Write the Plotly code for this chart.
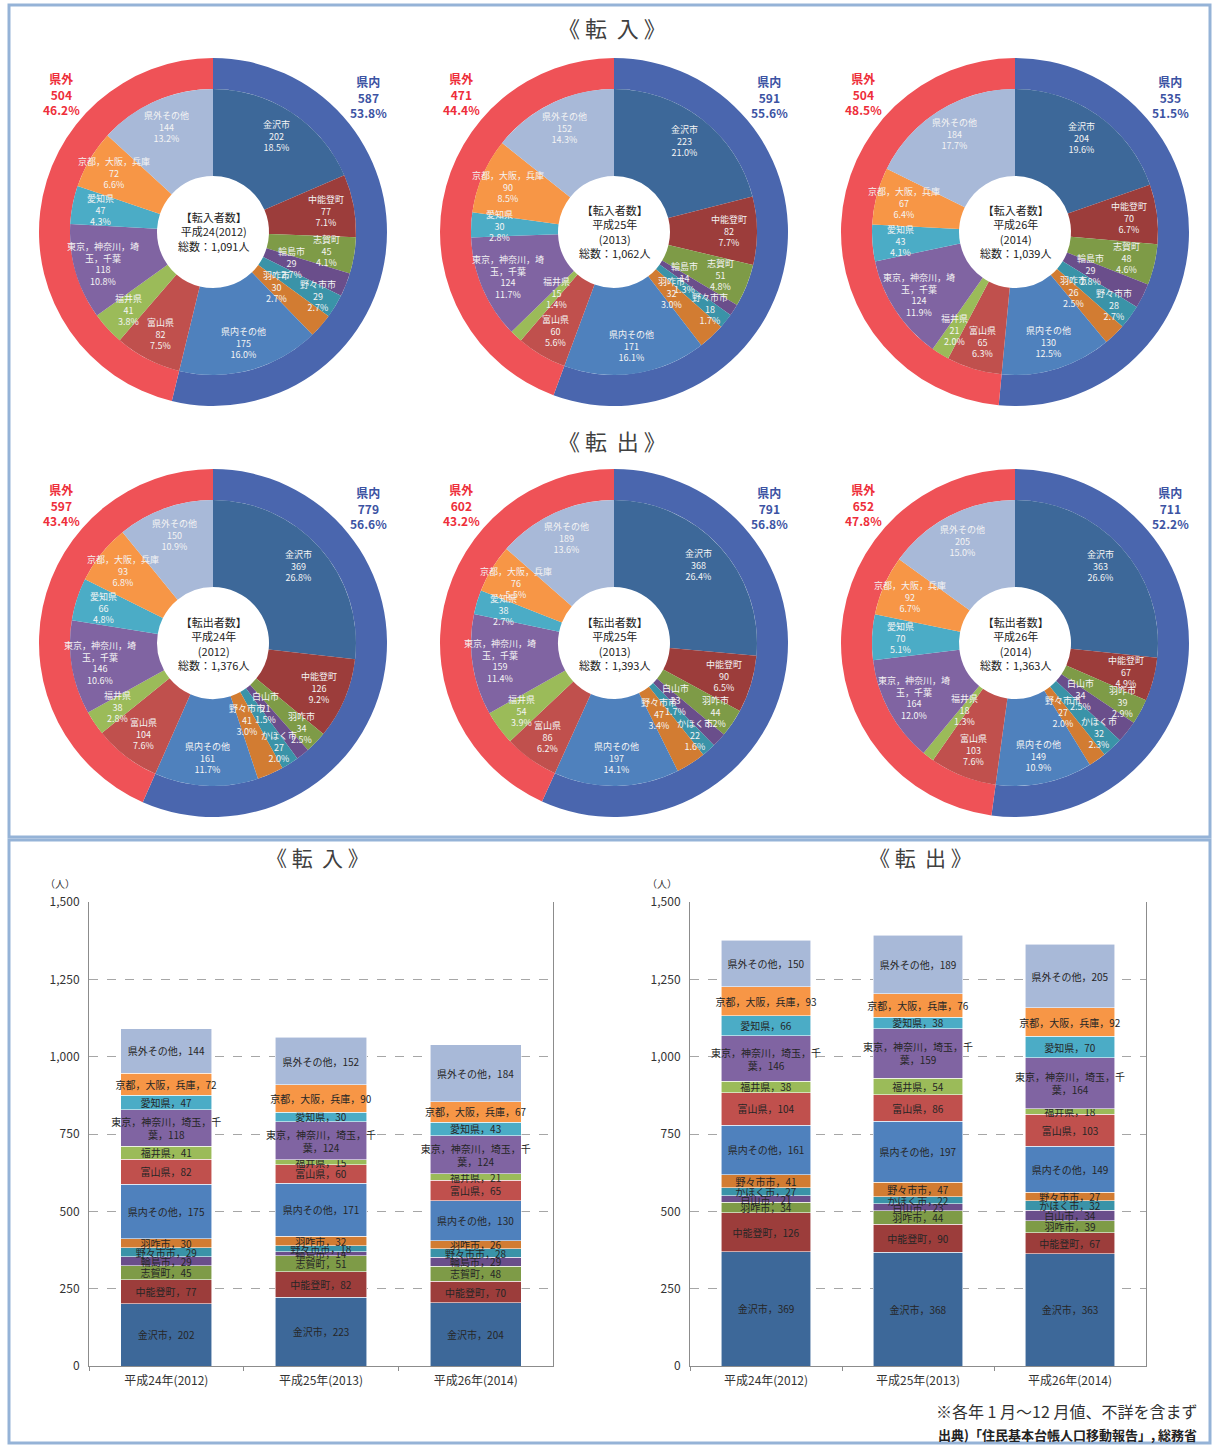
import math
import plotly.graph_objects as go

W, H = 1213, 1446
FONT = "Noto Sans CJK JP"

# ---------------------------------------------------------------- data
years = ["平成24年(2012)", "平成25年(2013)", "平成26年(2014)"]

in_names = ["金沢市", "中能登町", "志賀町", "輪島市", "野々市市", "羽咋市", "県内その他",
            "富山県", "福井県", "東京，神奈川，埼玉，千葉", "愛知県", "京都，大阪，兵庫", "県外その他"]
out_names = ["金沢市", "中能登町", "羽咋市", "白山市", "かほく市", "野々市市", "県内その他",
             "富山県", "福井県", "東京，神奈川，埼玉，千葉", "愛知県", "京都，大阪，兵庫", "県外その他"]

in_2012 = [202, 77, 45, 29, 29, 30, 175, 82, 41, 118, 47, 72, 144]
in_2013 = [223, 82, 51, 14, 18, 32, 171, 60, 15, 124, 30, 90, 152]
in_2014 = [204, 70, 48, 29, 28, 26, 130, 65, 21, 124, 43, 67, 184]

out_2012 = [369, 126, 34, 21, 27, 41, 161, 104, 38, 146, 66, 93, 150]
out_2013 = [368, 90, 44, 23, 22, 47, 197, 86, 54, 159, 38, 76, 189]
out_2014 = [363, 67, 39, 34, 32, 27, 149, 103, 18, 164, 70, 92, 205]

in_center_years = ["平成24(2012)", "平成25年<br>(2013)", "平成26年<br>(2014)"]
out_center_years = ["平成24年<br>(2012)", "平成25年<br>(2013)", "平成26年<br>(2014)"]

N_WITHIN = 7  # the first seven groups lie inside the prefecture

# wrapped forms of the long group name
pie_wrap = {"東京，神奈川，埼玉，千葉": "東京，神奈川，埼<br>玉，千葉"}
bar_wrap = {"東京，神奈川，埼玉，千葉": "東京，神奈川，埼玉，千<br>葉"}

# ---------------------------------------------------------------- styles
slice_colors = ["#3D6899", "#9C3D3B", "#7E9B47", "#6A4E8B", "#3A93A8", "#D27C32", "#4F81BD",
                "#C0504D", "#9BBB59", "#8064A2", "#4BACC6", "#F79646", "#A8B9D8"]
ring_colors = ["#4A66AE", "#EF5257"]
IN_COLOR, OUT_COLOR = "#3C53A3", "#EE2E3A"
FRAME = "#95B3D7"

R_RING = 174     # outer ring radius (px)
R_PIE = 143      # inner pie radius (px)
R_HOLE = 56      # centre hole radius (px)
centers_x = [213, 614, 1015]
centers_y = [232, 643]

SP = "\u00a0"


def spaced_title(a, b):
    return f"《{SP}{a}{SP * 2}{b}{SP}》"


def px_to_paper(x, y):
    return x / W, 1 - y / H


def domain(cx, cy, r):
    return dict(x=[(cx - r) / W, (cx + r) / W], y=[1 - (cy + r) / H, 1 - (cy - r) / H])


fig = go.Figure()
annotations = []


def text_at(px, py, text, size, color="#404040", xanchor="center", yanchor="middle", **kw):
    x, y = px_to_paper(px, py)
    annotations.append(dict(x=x, y=y, xref="paper", yref="paper", showarrow=False,
                            text=text, xanchor=xanchor, yanchor=yanchor,
                            font=dict(size=size, color=color, family=FONT), **kw))


def add_donut(cx, cy, names, values, kind, year_label):
    total = sum(values)
    within = sum(values[:N_WITHIN])
    outside = total - within
    # outer ring: within / outside the prefecture
    fig.add_trace(go.Pie(
        values=[within, outside], labels=["県内", "県外"], sort=False,
        direction="clockwise", rotation=0, hole=R_PIE / R_RING,
        domain=domain(cx, cy, R_RING), textinfo="none", hoverinfo="skip",
        marker=dict(colors=ring_colors, line=dict(width=0)), showlegend=False))
    # inner pie: destination / origin groups
    fig.add_trace(go.Pie(
        values=values, labels=names, sort=False, direction="clockwise", rotation=0,
        hole=R_HOLE / R_PIE, domain=domain(cx, cy, R_PIE), textinfo="none",
        hoverinfo="skip", marker=dict(colors=slice_colors, line=dict(width=0)),
        showlegend=False))

    # slice labels, placed along each slice's mid-angle
    shares = [v / total * 100 for v in values]
    small = [s < 3.6 for s in shares]
    cum = 0
    for i, (n, v) in enumerate(zip(names, values)):
        mid = (cum + v / 2) / total * 2 * math.pi
        cum += v
        run = small[i] and ((i > 0 and small[i - 1]) or (i < len(values) - 1 and small[i + 1]))
        if run:
            r = 84 if i % 2 == 1 else 123
        elif shares[i] < 2.0:
            r = 84
        else:
            r = 115
        text_at(cx + r * math.sin(mid), cy - r * math.cos(mid),
                f"{pie_wrap.get(n, n)}<br>{v}<br>{shares[i]:.1f}%", 9, color="#F4F4F4")

    # centre caption
    text_at(cx, cy, f"【{kind}者数】<br>{year_label}<br>総数：{total:,}人", 11, color="#222222")

    # ring captions
    text_at(cx - 152, cy - 138,
            f"<b>県外<br>{outside}<br>{outside / total * 100:.1f}%</b>", 12, color=OUT_COLOR)
    text_at(cx + 155, cy - 135,
            f"<b>県内<br>{within}<br>{within / total * 100:.1f}%</b>", 12, color=IN_COLOR)


for cx, vals, yl in zip(centers_x, [in_2012, in_2013, in_2014], in_center_years):
    add_donut(cx, centers_y[0], in_names, vals, "転入", yl)
for cx, vals, yl in zip(centers_x, [out_2012, out_2013, out_2014], out_center_years):
    add_donut(cx, centers_y[1], out_names, vals, "転出", yl)

# ---------------------------------------------------------------- stacked bars
in_series = list(zip(in_2012, in_2013, in_2014))
out_series = list(zip(out_2012, out_2013, out_2014))

for names, series, xa, ya in [(in_names, in_series, "x", "y"), (out_names, out_series, "x2", "y2")]:
    for i, (n, vals) in enumerate(zip(names, series)):
        label = bar_wrap.get(n, n)
        fig.add_trace(go.Bar(
            x=years, y=list(vals), xaxis=xa, yaxis=ya, width=0.59,
            marker=dict(color=slice_colors[i], line=dict(color="rgba(255,255,255,0.7)", width=0.8)),
            text=[f"{label}，{v}" for v in vals], textposition="inside",
            insidetextanchor="middle", textangle=0,
            textfont=dict(size=10, color="#262626", family=FONT),
            hoverinfo="skip", showlegend=False))

y_dom = [1 - 1366 / H, 1 - 902 / H]
axis_common = dict(showline=True, linecolor="#8C8C8C", linewidth=1, automargin=False,
                   tickfont=dict(size=12, color="#333333", family=FONT))
x_common = dict(axis_common, ticks="outside", tickson="boundaries", ticklen=4,
                tickcolor="#8C8C8C", showgrid=False, ticklabelstandoff=4)
y_common = dict(axis_common, range=[0, 1500], dtick=250, tickformat=",", mirror=True,
                showgrid=True, gridcolor="#A6A6A6", griddash="dash", gridwidth=1,
                zeroline=False, ticks="", ticklabelstandoff=6)

# ---------------------------------------------------------------- titles & notes
text_at(612, 27, spaced_title("転", "入"), 22)
text_at(612, 440, spaced_title("転", "出"), 22)
text_at(317, 857, spaced_title("転", "入"), 21)
text_at(920, 857, spaced_title("転", "出"), 21)
text_at(60, 883, "（人）", 10, color="#333333")
text_at(662, 883, "（人）", 10, color="#333333")
text_at(1199, 1411, "※各年 1 月～12 月値、不詳を含まず", 16, color="#333333", xanchor="right")
text_at(1199, 1434, "<b>出典)「住民基本台帳人口移動報告」, 総務省</b>", 13, color="#222222",
        xanchor="right")

frames = [(9, 5, 1210, 837), (9, 840, 1210, 1443)]
shapes = []
for x0, y0, x1, y1 in frames:
    a = px_to_paper(x0, y0)
    b = px_to_paper(x1, y1)
    shapes.append(dict(type="rect", xref="paper", yref="paper", x0=a[0], y0=b[1],
                       x1=b[0], y1=a[1], line=dict(color=FRAME, width=3), layer="below"))

fig.update_layout(
    width=W, height=H, autosize=False,
    margin=dict(l=0, r=0, t=0, b=0, autoexpand=False),
    paper_bgcolor="white", plot_bgcolor="white",
    font=dict(family=FONT, color="#333333"),
    barmode="stack",
    uniformtext=dict(minsize=10, mode="show"),
    xaxis=dict(x_common, domain=[89 / W, 553 / W], anchor="y"),
    yaxis=dict(y_common, domain=y_dom, anchor="x"),
    xaxis2=dict(x_common, domain=[690 / W, 1146 / W], anchor="y2"),
    yaxis2=dict(y_common, domain=y_dom, anchor="x2"),
    annotations=annotations,
    shapes=shapes,
)

fig.write_html("out.html")
